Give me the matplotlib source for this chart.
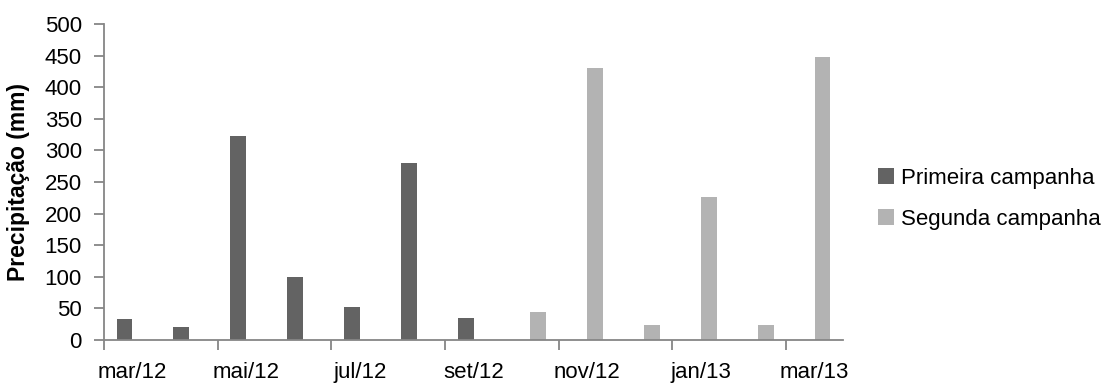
import numpy as np
import matplotlib.pyplot as plt

plt.rcParams['font.family'] = ['Liberation Sans', 'DejaVu Sans']

# monthly rainfall (mm), Mar/2012 - Mar/2013
meses = ['mar/12', 'abr/12', 'mai/12', 'jun/12', 'jul/12', 'ago/12', 'set/12',
         'out/12', 'nov/12', 'dez/12', 'jan/13', 'fev/13', 'mar/13']
primeira = [33, 21, 323, 99, 53, 280, 35]          # mar/12 - set/12
segunda = [44, 431, 24, 227, 24, 448]              # out/12 - mar/13

cor_primeira = '#636363'
cor_segunda = '#b3b3b3'
cor_eixo = '#868686'
fs = 16

x = np.arange(len(meses))
x1 = x[:len(primeira)]
x2 = x[len(primeira):]
w = 0.28

fig = plt.figure(figsize=(11.06, 3.86), dpi=100)
ax = fig.add_axes([104 / 1106, 1 - 340 / 386, 739 / 1106, 316 / 386])

# clustered layout: first series sits left of the category, second right
ax.bar(x1 - w / 2, primeira, width=w, color=cor_primeira, label='Primeira campanha')
ax.bar(x2 + w / 2, segunda, width=w, color=cor_segunda, label='Segunda campanha')

ax.set_xlim(-0.5, len(meses) - 0.5)
ax.set_ylim(0, 500)
ax.set_yticks(np.arange(0, 501, 50))

# tick marks between categories, labels every other month
ax.set_xticks(x[::2] - 0.5)
ax.set_xticklabels([])
ax.set_xticks(x[::2], minor=True)
ax.set_xticklabels(meses[::2], minor=True, fontsize=fs)
ax.tick_params(axis='x', which='major', length=7, width=1.3, color=cor_eixo)
ax.tick_params(axis='x', which='minor', length=0, pad=16)
ax.tick_params(axis='y', length=7, width=1.3, color=cor_eixo, labelsize=fs, pad=9)

for s in ['top', 'right']:
    ax.spines[s].set_visible(False)
for s in ['left', 'bottom']:
    ax.spines[s].set_color(cor_eixo)
    ax.spines[s].set_linewidth(1.3)

ax.set_ylabel('Precipitação (mm)', fontsize=16.5, fontweight='bold')
ax.yaxis.set_label_coords(-0.1, 0.5)

fig.legend(loc='center left', bbox_to_anchor=(878 / 1106, 1 - 199 / 386),
           frameon=False, fontsize=fs, handlelength=0.7, handleheight=0.7,
           handletextpad=0.35, labelspacing=0.9, borderpad=0, borderaxespad=0)

plt.savefig('out.png', dpi=100)
